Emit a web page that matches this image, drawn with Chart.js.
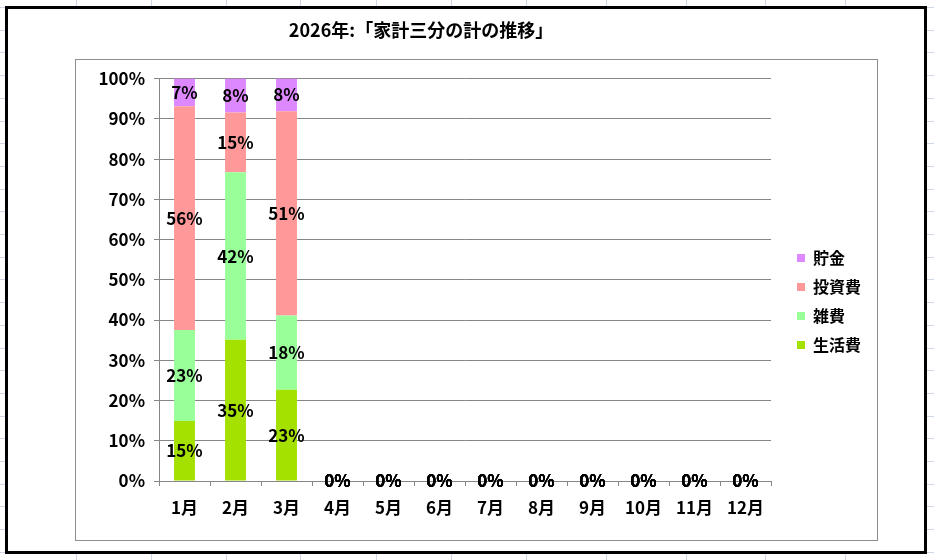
<!DOCTYPE html>
<html>
<head>
<meta charset="utf-8">
<script src="https://cdn.jsdelivr.net/npm/chart.js@4.4.1/dist/chart.umd.min.js"></script>
<style>
  html, body { margin: 0; padding: 0; }
  body {
    width: 934px; height: 560px; position: relative; overflow: hidden;
    background-color: #fff;
    background-image:
      linear-gradient(to right, transparent 76px, #d0d7e5 76px, #d0d7e5 77px, transparent 77px,
        transparent 151px, #d0d7e5 151px, #d0d7e5 152px, transparent 152px,
        transparent 226px, #d0d7e5 226px, #d0d7e5 227px, transparent 227px,
        transparent 300px, #d0d7e5 300px, #d0d7e5 301px, transparent 301px,
        transparent 376px, #d0d7e5 376px, #d0d7e5 377px, transparent 377px,
        transparent 451px, #d0d7e5 451px, #d0d7e5 452px, transparent 452px,
        transparent 526px, #d0d7e5 526px, #d0d7e5 527px, transparent 527px,
        transparent 606px, #d0d7e5 606px, #d0d7e5 607px, transparent 607px,
        transparent 686px, #d0d7e5 686px, #d0d7e5 687px, transparent 687px,
        transparent 765px, #d0d7e5 765px, #d0d7e5 766px, transparent 766px,
        transparent 845px, #d0d7e5 845px, #d0d7e5 846px, transparent 846px),
      repeating-linear-gradient(to bottom, transparent 0px, transparent 7px, #d0d7e5 7px, #d0d7e5 8px, transparent 8px, transparent 22.7px);
  }
  #box {
    position: absolute; left: 5px; top: 6px;
    width: 916px; height: 542px;
    border: 3px solid #000; background: #fff;
  }
  #box canvas { display: block; }
</style>
</head>
<body>
<div id="box"><canvas id="canvasChart" width="916" height="542"></canvas></div>
<script>
// months on the x axis
var months = ['1月', '2月', '3月', '4月', '5月', '6月', '7月', '8月', '9月', '10月', '11月', '12月'];

// share of each month's total, in percent
var livingCost = [14.9, 35.1, 22.7, 0, 0, 0, 0, 0, 0, 0, 0, 0];   // 生活費
var sundryCost = [22.6, 41.6, 18.4, 0, 0, 0, 0, 0, 0, 0, 0, 0];   // 雑費
var investCost = [55.6, 14.9, 50.8, 0, 0, 0, 0, 0, 0, 0, 0, 0];   // 投資費
var savings    = [6.9, 8.4, 8.1, 0, 0, 0, 0, 0, 0, 0, 0, 0];      // 貯金

var chartTitle = '2026年:「家計三分の計の推移」';
var fontFamily = '"Noto Sans CJK JP", "Noto Sans", sans-serif';

// gray frame round plot + legend, like the Excel plot area border
var framePlugin = {
  id: 'frame',
  beforeDraw: function(chart) {
    var ctx = chart.ctx;
    ctx.save();
    ctx.strokeStyle = '#8c8c8c';
    ctx.lineWidth = 1;
    ctx.strokeRect(67.5, 50.5, 802, 481);
    ctx.restore();
  },
  afterLayout: function(chart) {
    // park the legend on the right, vertically centred like the original
    var lg = chart.legend;
    var h = lg.bottom - lg.top;
    lg.left = 776;
    lg.right = lg.left + lg.width;
    lg.top = 228;
    lg.bottom = lg.top + h;
  }
};

// percentage label in the middle of every segment
var labelPlugin = {
  id: 'segLabels',
  afterDatasetsDraw: function(chart) {
    var ctx = chart.ctx;
    ctx.save();
    ctx.font = 'bold 17px ' + fontFamily;
    ctx.fillStyle = '#000';
    ctx.textAlign = 'center';
    ctx.textBaseline = 'middle';
    chart.data.datasets.forEach(function(ds, i) {
      chart.getDatasetMeta(i).data.forEach(function(bar, j) {
        ctx.fillText(Math.round(ds.data[j]) + '%', bar.x, (bar.y + bar.base) / 2);
      });
    });
    ctx.restore();
  }
};

var ctx = document.getElementById('canvasChart').getContext('2d');
var myBar = new Chart(ctx, {
  type: 'bar',
  data: {
    labels: months,
    datasets: [
      { label: '生活費', data: livingCost, backgroundColor: '#a4e000' },
      { label: '雑費', data: sundryCost, backgroundColor: '#99ff99' },
      { label: '投資費', data: investCost, backgroundColor: '#ff9999' },
      { label: '貯金', data: savings, backgroundColor: '#dd88ff' }
    ]
  },
  options: {
    responsive: false,
    animation: false,
    events: [],
    layout: { padding: { left: 63, right: 153, top: 0, bottom: 0 } },
    datasets: { bar: { barPercentage: 0.41, categoryPercentage: 1 } },
    scales: {
      x: {
        stacked: true,
        grid: { drawOnChartArea: false, drawTicks: true, tickLength: 5, color: '#868686', offset: true },
        border: { color: '#868686' },
        ticks: { color: '#000', padding: 11, font: { family: fontFamily, size: 17, weight: 'bold' } },
        afterFit: function(s) { s.height = 70; }
      },
      y: {
        stacked: true,
        min: 0,
        max: 100,
        grid: { color: '#868686', tickLength: 5 },
        border: { color: '#868686' },
        ticks: {
          stepSize: 10,
          color: '#000',
          padding: 9,
          font: { family: fontFamily, size: 17, weight: 'bold' },
          callback: function(v) { return v + '%'; }
        },
        afterFit: function(s) { s.width = 88; }
      }
    },
    plugins: {
      title: {
        display: true,
        text: chartTitle,
        color: '#000',
        font: { family: fontFamily, size: 18, weight: 'bold' },
        padding: { top: 10, bottom: 38 }
      },
      legend: {
        position: 'chartArea',
        align: 'start',
        reverse: true,
        labels: {
          boxWidth: 8,
          boxHeight: 8,
          padding: 13,
          color: '#000',
          font: { family: fontFamily, size: 16, weight: 'bold' }
        }
      },
      tooltip: { enabled: false }
    }
  },
  plugins: [framePlugin, labelPlugin]
});
</script>
</body>
</html>
